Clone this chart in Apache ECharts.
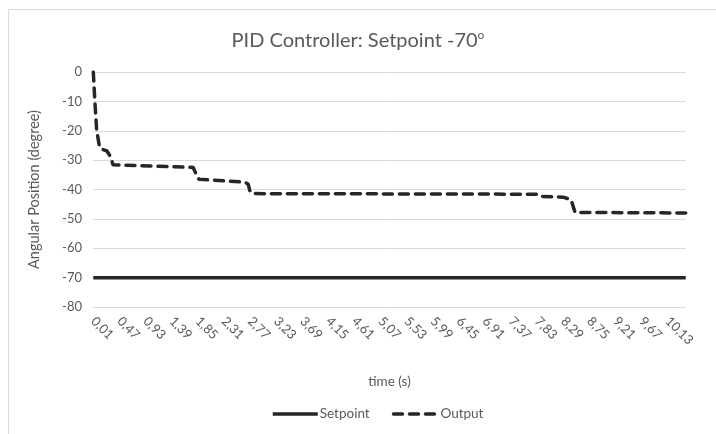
<!DOCTYPE html>
<html>
<head>
<meta charset="utf-8">
<script src="https://cdn.jsdelivr.net/npm/echarts@6/dist/echarts.min.js"></script>
<style>
html,body{margin:0;padding:0;background:#fff;}
#chart{width:716px;height:434px;}
</style>
</head>
<body>
<div id="chart"></div>
<script>
// X categories: sample times 0.01 .. 10.45 s (step 0.01)
const categoryCount = 1045;
const timeCategories = [];
for (let i = 1; i <= categoryCount; i++) {
  timeCategories.push((i / 100).toFixed(2).replace('.', ','));
}
const yTicks = [0, -10, -20, -30, -40, -50, -60, -70, -80];

// Setpoint series (constant)
const setpointTimes = [0.01, 10.45];
const setpointValues = [-70, -70];

// Output series, read at its breakpoints
const outputTimes = [0.01, 0.04, 0.07, 0.12, 0.15, 0.25, 0.30, 0.34, 0.36, 1.01, 1.77, 1.80, 1.84, 1.87, 2.68, 2.74, 2.77, 2.81, 7.82, 7.86, 8.29, 8.43, 8.50, 8.52, 10.45];
const outputValues = [0, -10.7, -19.9, -25.5, -26.2, -26.9, -28.4, -30.5, -31.6, -32.0, -32.5, -32.8, -35.5, -36.5, -37.5, -38.2, -40.5, -41.4, -41.6, -42.3, -42.6, -43.5, -47.8, -48.0, -48.0];

const fmt = t => t.toFixed(2).replace('.', ',');
const pairs = (ts, vs) => ts.map((t, i) => [fmt(t), vs[i]]);

const chart = echarts.init(document.getElementById('chart'));
const txt = '#595959';
const font = 'Lato, "Open Sans", sans-serif';
chart.setOption({
  animation: false,
  textStyle: { fontFamily: font },
  graphic: [{
    type: 'rect', z: -1,
    shape: { x: 8.5, y: 9.5, width: 760, height: 460 },
    style: { fill: 'none', stroke: '#d9d9d9', lineWidth: 1 }
  }],
  title: {
    text: '{a|PID Controller: Setpoint -70}{s|o}',
    left: 'center', top: 24,
    textStyle: {
      fontWeight: 'normal',
      rich: {
        a: { fontSize: 20, color: txt, fontFamily: font, fontWeight: 'normal', lineHeight: 24 },
        s: { fontSize: 12, color: txt, fontFamily: font, fontWeight: 'normal', lineHeight: 12, verticalAlign: 'top' }
      }
    }
  },
  legend: {
    bottom: 8, left: 266,
    itemWidth: 45, itemHeight: 12, itemGap: 22,
    itemStyle: { opacity: 0 },
    lineStyle: { width: 3.5 },
    textStyle: { color: txt, fontSize: 13.5, fontFamily: font, padding: [0, 0, 0, -3] },
    data: ['Setpoint', 'Output']
  },
  grid: { left: 93, right: 30, top: 72, bottom: 127, containLabel: false },
  xAxis: {
    type: 'category',
    data: timeCategories,
    boundaryGap: true,
    name: 'time (s)', nameLocation: 'middle', nameGap: 68,
    nameTextStyle: { color: txt, fontSize: 13.5, fontFamily: font },
    axisLine: { show: false },
    axisTick: { show: false },
    axisLabel: { interval: 45, rotate: -45, color: txt, fontSize: 13, margin: 12, fontFamily: font },
    splitLine: { show: false }
  },
  yAxis: {
    type: 'value',
    min: yTicks[yTicks.length - 1], max: yTicks[0], interval: 10,
    name: 'Angular Position (degree)', nameLocation: 'middle', nameGap: 51, nameRotate: 90,
    nameTextStyle: { color: txt, fontSize: 14.5, fontFamily: font },
    axisLine: { show: false },
    axisTick: { show: false },
    axisLabel: { color: txt, fontSize: 13, margin: 11, fontFamily: font },
    splitLine: { lineStyle: { color: '#d9d9d9', width: 1 } }
  },
  series: [
    {
      name: 'Setpoint', type: 'line',
      data: pairs(setpointTimes, setpointValues),
      showSymbol: false, symbol: 'none',
      lineStyle: { color: '#262626', width: 3.5, cap: 'butt' },
      itemStyle: { color: '#262626' }
    },
    {
      name: 'Output', type: 'line',
      data: pairs(outputTimes, outputValues),
      showSymbol: false, symbol: 'none',
      lineStyle: { color: '#262626', width: 3.5, type: [9, 7], cap: 'round', join: 'round' },
      itemStyle: { color: '#262626' }
    }
  ]
});
</script>
</body>
</html>
